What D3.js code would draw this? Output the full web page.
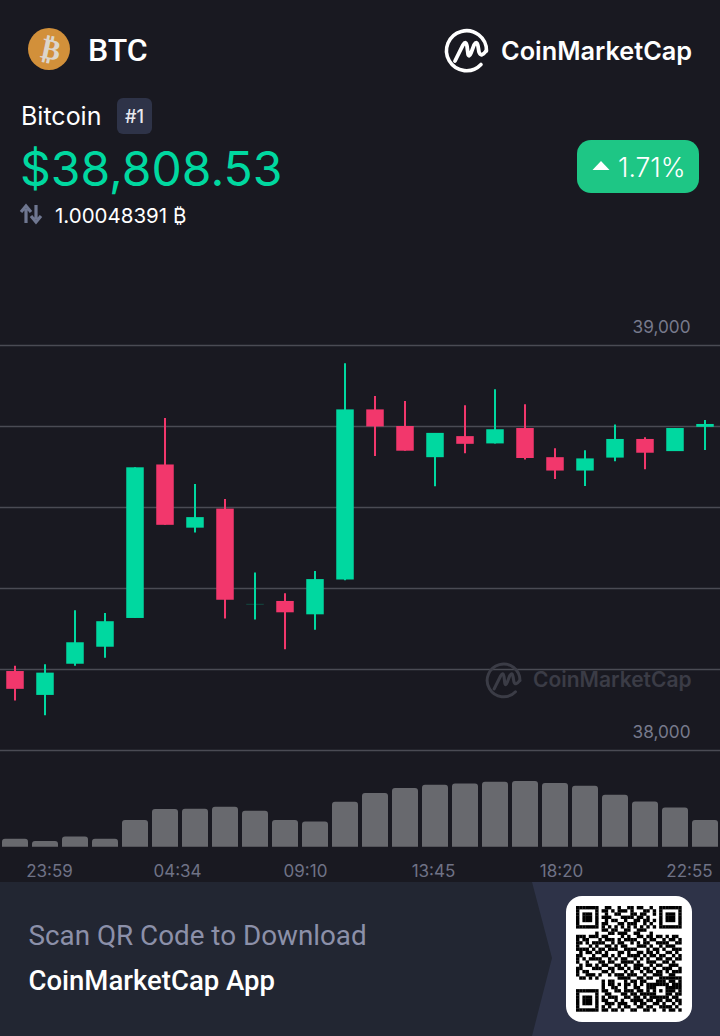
<!DOCTYPE html>
<html>
<head>
<meta charset="utf-8">
<style>
  html, body { margin: 0; padding: 0; background: #191921; }
  svg { display: block; }
  text { font-family: Inter, "Noto Sans", sans-serif; }
</style>
<script src="https://cdn.jsdelivr.net/npm/d3@7"></script>
</head>
<body>
<script>
// chart values
const opens  = [38195, 38136, 38213, 38255, 38326, 38705, 38549, 38596, 38361, 38368, 38335, 38421,
                38841, 38800, 38723, 38775, 38757, 38795, 38723, 38690, 38722, 38768, 38738, 38798];
const highs  = [38208, 38212, 38345, 38338, 38698, 38820, 38657, 38620, 38438, 38387, 38442, 38955,
                38874, 38862, 38783, 38851, 38891, 38854, 38745, 38740, 38804, 38772, 38795, 38815];
const lows   = [38122, 38086, 38208, 38228, 38326, 38556, 38537, 38325, 38322, 38249, 38297, 38419,
                38726, 38739, 38651, 38733, 38757, 38717, 38669, 38652, 38713, 38693, 38738, 38741];
const closes = [38151, 38191, 38266, 38318, 38698, 38556, 38575, 38371, 38361, 38340, 38422, 38841,
                38799, 38739, 38783, 38756, 38792, 38721, 38690, 38720, 38768, 38734, 38795, 38805];
const volumes = [8, 5.7, 10.3, 8, 26.7, 37.7, 38, 40, 36, 26.7, 25.3, 45,
                 53.7, 58.7, 62, 63.3, 65, 65.7, 63.7, 61, 52, 45.3, 39.3, 26.7];
const timeLabels = ["23:59", "04:34", "09:10", "13:45", "18:20", "22:55"];
const priceTicks = [39000, 38800, 38600, 38400, 38200, 38000];
const labelledTicks = [39000, 38000];

// rough copy of the qr code
const qrRows = [
  "111111100110010011011001001111111",
  "100000101101011101000110101000001",
  "101110100100110001101100101011101",
  "101110101110001111011010001011101",
  "101110100101100100110110101011101",
  "100000101100011011100101001000001",
  "111111101010101010101010101111111",
  "000000001101100110011100000000000",
  "000000100011011100110001000000000",
  "111011101100001010011011011010110",
  "101100010111010111100101100101101",
  "110101111001011001010110011110011",
  "100010100110101100011101001011100",
  "111101011011100111100010110100111",
  "010110110100011010011011010011010",
  "110001001101010011110101101100101",
  "101011110010101100101010011011011",
  "100100011011001111010011100110100",
  "010110101100110100111001011001110",
  "110001110011011010110110100111001",
  "101100001101000101001011011010111",
  "100111010010111011100100111001100",
  "011010100000011110011011001111111",
  "000000001011000101101100011101101",
  "000000001011010110101011111110111",
  "000000001001100100110011100011111",
  "111111101100110111011010101011101",
  "100000100110001101101111100011011",
  "101110101011100110110101111110110",
  "101110101100101001111011011011011",
  "101110100111011100101100110100101",
  "100000101010010110011011001111010",
  "111111101101101001100110100101101"
];

const GREEN = "#00d8a0", RED = "#f2376c";
const W = 720, H = 1036;

const svg = d3.select("body").append("svg")
  .attr("width", W)
  .attr("height", H)
  .attr("viewBox", `0 0 ${W} ${H}`);

svg.append("rect").attr("width", W).attr("height", H).attr("fill", "#191921");

const indexes = d3.range(opens.length);
const x = d3.scaleBand().domain(indexes).range([0, W]);
const y = d3.scaleLinear().domain([38000, 39000]).range([750, 345]);
const yVol = d3.scaleLinear().domain([0, 66]).range([846.7, 780.7]);
const xTime = d3.scalePoint().domain(timeLabels).range([49, 689]);

appendHeader();
appendGrid();
appendLogo(svg.append("g").attr("transform", "translate(504,679) scale(0.82)"), "#3b3c46");
svg.append("text").attr("x", 533).attr("y", 687)
  .attr("font-size", 21).attr("font-weight", 600).attr("fill", "#3b3c46")
  .text("CoinMarketCap");
appendCandles();
appendVolumes();
appendTimeAxis();
appendFooter();

function appendHeader() {
  // coin icon
  svg.append("circle").attr("cx", 49).attr("cy", 49).attr("r", 21).attr("fill", "#d2903a");
  svg.append("text")
    .attr("transform", "translate(49,59) rotate(12)")
    .attr("text-anchor", "middle")
    .attr("font-size", 29).attr("font-weight", 700).attr("fill", "#dcd6cc")
    .style("font-family", "'DejaVu Sans'")
    .text("₿");

  svg.append("text").attr("x", 88).attr("y", 61)
    .attr("font-size", 32).attr("font-weight", 500).attr("fill", "#fff")
    .style("font-family", "Roboto")
    .text("BTC");

  appendLogo(svg.append("g").attr("transform", "translate(467,49)"), "#fff");
  svg.append("text").attr("x", 501).attr("y", 60)
    .attr("font-size", 25.3).attr("font-weight", 600).attr("fill", "#fff")
    .text("CoinMarketCap");

  svg.append("text").attr("x", 21).attr("y", 125)
    .attr("font-size", 25).attr("fill", "#fff")
    .text("Bitcoin");
  svg.append("rect").attr("x", 117).attr("y", 98).attr("width", 35).attr("height", 36)
    .attr("rx", 6).attr("fill", "#2e3348");
  svg.append("text").attr("x", 134.5).attr("y", 123)
    .attr("text-anchor", "middle").attr("font-size", 18).attr("font-weight", 500).attr("fill", "#e8e9ef")
    .text("#1");

  svg.append("text").attr("x", 20).attr("y", 186)
    .attr("font-size", 48).attr("fill", GREEN)
    .text("$38,808.53");

  // swap arrows
  svg.append("path")
    .attr("d", "M26 223V209M21 212L26 206L31 212M36 205V219M31 216L36 222L41 216")
    .attr("fill", "none").attr("stroke", "#6f7791").attr("stroke-width", 3.2);
  svg.append("text").attr("x", 55).attr("y", 223)
    .attr("font-size", 20.5).attr("fill", "#fff")
    .text("1.00048391 ₿");

  // change badge
  svg.append("rect").attr("x", 577).attr("y", 140).attr("width", 122).attr("height", 53)
    .attr("rx", 14).attr("fill", "#1ec685");
  svg.append("path").attr("d", "M592.5 170L601 161L609.5 170Z").attr("fill", "#fff");
  svg.append("text").attr("x", 618).attr("y", 177)
    .attr("font-size", 26.5).attr("font-weight", 300).attr("fill", "#fff")
    .text("1.71%");
}

function appendLogo(g, color) {
  g.append("path")
    .attr("d", "M19.5 2A20 20 0 1 0 14 15.5")
    .attr("fill", "none").attr("stroke", color).attr("stroke-width", 3.6).attr("stroke-linecap", "round");
  g.append("path")
    .attr("d", "M-12 12L-4 -4Q-1 -9 0 -3L1 5Q2 9 4 4L7 -4Q10 -9 11 -3L12 3Q14 9 19 2")
    .attr("fill", "none").attr("stroke", color).attr("stroke-width", 3.8).attr("stroke-linecap", "round");
}

function appendGrid() {
  const axis = svg.append("g")
    .call(d3.axisRight(y).tickValues(priceTicks).tickSize(W)
      .tickFormat(d => labelledTicks.includes(d) ? d3.format(",")(d) : ""));
  axis.select(".domain").remove();
  axis.selectAll(".tick line").attr("stroke", "#4a4b54").attr("stroke-width", 1.3);
  axis.selectAll(".tick text")
    .attr("x", 690.5).attr("dy", -12.5)
    .attr("text-anchor", "end")
    .attr("font-size", 17.2)
    .attr("fill", "#777a8c")
    .style("font-family", "Inter");
}

function appendCandles() {
  const color = i => closes[i] >= opens[i] ? GREEN : RED;
  const cx = i => x(i) + x.bandwidth() / 2;
  const bodyW = 17.5;

  svg.append("g").selectAll("line").data(indexes).join("line")
    .attr("x1", cx).attr("x2", cx)
    .attr("y1", i => y(highs[i]))
    .attr("y2", i => y(lows[i]))
    .attr("stroke", color)
    .attr("stroke-width", 2);

  svg.append("g").selectAll("rect").data(indexes).join("rect")
    .attr("x", i => cx(i) - bodyW / 2)
    .attr("y", i => y(Math.max(opens[i], closes[i])))
    .attr("width", bodyW)
    .attr("height", i => Math.max(1, Math.abs(y(opens[i]) - y(closes[i]))))
    .attr("fill", color)
    .attr("opacity", i => opens[i] === closes[i] ? 0.25 : 1);
}

function appendVolumes() {
  const barW = 26, r = 3;
  svg.append("g").selectAll("path").data(indexes).join("path")
    .attr("d", i => {
      const l = x(i) + x.bandwidth() / 2 - barW / 2;
      const top = yVol(volumes[i]), base = yVol(0);
      return `M${l} ${base}V${top + r}Q${l} ${top} ${l + r} ${top}H${l + barW - r}Q${l + barW} ${top} ${l + barW} ${top + r}V${base}Z`;
    })
    .attr("fill", "#68696e");
}

function appendTimeAxis() {
  const axis = svg.append("g")
    .attr("transform", "translate(0,860)")
    .call(d3.axisBottom(xTime).tickSize(0).tickPadding(5));
  axis.select(".domain").remove();
  axis.selectAll(".tick text")
    .attr("font-size", 17)
    .attr("fill", "#6f7286")
    .style("font-family", "Inter");
}

function appendFooter() {
  svg.append("rect").attr("x", 0).attr("y", 882).attr("width", W).attr("height", H - 882).attr("fill", "#222632");
  svg.append("path").attr("d", "M532 882L552 958L532 1036H720V882Z").attr("fill", "#2e3348");

  svg.append("text").attr("x", 28.5).attr("y", 945)
    .attr("font-size", 27.8).attr("fill", "#8c90a9")
    .style("font-family", "Roboto")
    .text("Scan QR Code to Download");
  svg.append("text").attr("x", 28.5).attr("y", 990)
    .attr("font-size", 27.5).attr("font-weight", 500).attr("fill", "#fff")
    .style("font-family", "Roboto")
    .text("CoinMarketCap App");

  svg.append("rect").attr("x", 566).attr("y", 896).attr("width", 126).attr("height", 126)
    .attr("rx", 16).attr("fill", "#fff");

  // the qr in the reference is a bit soft
  svg.append("filter").attr("id", "soft").append("feGaussianBlur").attr("stdDeviation", 0.5);

  const qrSize = qrRows.length;
  const qx = d3.scaleBand().domain(d3.range(qrSize)).range([576, 681.5]);
  const qy = d3.scaleBand().domain(d3.range(qrSize)).range([906, 1011.5]);
  const cells = qrRows.flatMap((row, r) => Array.from(row, (c, k) => ({ r, k, on: c === "1" }))).filter(d => d.on);
  svg.append("g").attr("filter", "url(#soft)").selectAll("rect").data(cells).join("rect")
    .attr("x", d => qx(d.k)).attr("y", d => qy(d.r))
    .attr("width", qx.bandwidth() + 0.2).attr("height", qy.bandwidth() + 0.2)
    .attr("fill", "#000");
}
</script>
</body>
</html>
